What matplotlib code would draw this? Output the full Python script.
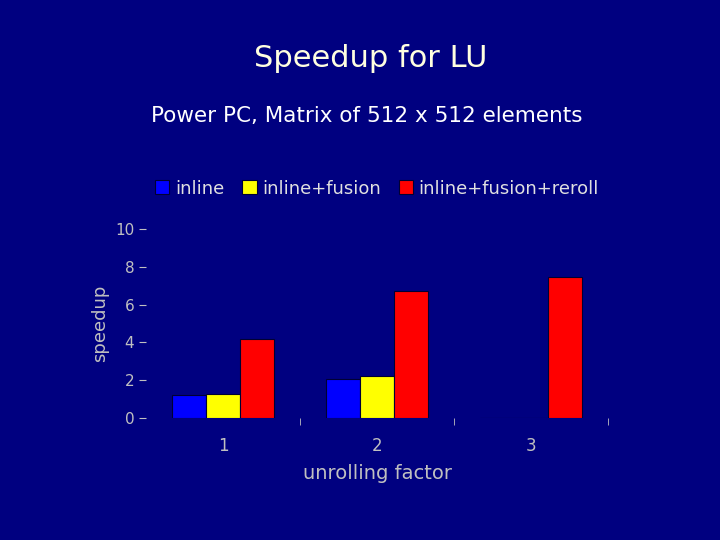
import matplotlib
matplotlib.use("Agg")
import matplotlib.pyplot as plt
import numpy as np

groups = ["1", "2", "3"]
series = ["inline", "inline+fusion", "inline+fusion+reroll"]
inline = [1.2, 2.05, 0]
fusion = [1.27, 2.2, 0]
reroll = [4.2, 6.7, 7.45]
colors = ["#0000ff", "#ffff00", "#ff0000"]

bg = "#000080"
fig = plt.figure(figsize=(7.2, 5.4), dpi=100, facecolor=bg)
ax = fig.add_axes([146/720, (540-418)/540, (608-146)/720, (418-229)/540])
ax.set_facecolor(bg)
x = np.arange(1, 4)
w = 0.22
for i, (vals, c, lab) in enumerate(zip([inline, fusion, reroll], colors, series)):
    ax.bar(x + (i-1)*w, vals, w, color=c, edgecolor="#000033", linewidth=0.8, label=lab)
ax.set_xlim(0.5, 3.5)
ax.set_ylim(0, 10)
ax.set_yticks([0, 2, 4, 6, 8, 10])
ax.set_xticks(x)
ax.set_xticklabels(groups)
ax.set_xticks([1.5, 2.5, 3.5], minor=True)
for s in ax.spines.values():
    s.set_visible(False)
ax.tick_params(axis="y", colors="#c0c0c0", labelsize=11, length=5, direction="out")
ax.tick_params(axis="x", which="major", colors="#c0c0c0", labelsize=12, length=0, pad=14)
ax.tick_params(axis="x", which="minor", colors="#c0c0c0", length=5)
ax.set_ylabel("speedup", color="#c0c0c0", fontsize=13)
ax.set_xlabel("unrolling factor", color="#c0c0c0", fontsize=14, labelpad=6)
leg = ax.legend(loc="lower center", bbox_to_anchor=(0.5, 1.08), ncol=3, frameon=False,
                fontsize=13, handlelength=0.8, handleheight=0.8, handletextpad=0.3,
                columnspacing=1.0)
for t in leg.get_texts():
    t.set_color("#e0e0e0")
fig.text(0.515, 0.892, "Speedup for LU", color="#ffffe0", fontsize=22, ha="center", va="center")
fig.text(0.51, 0.785, "Power PC, Matrix of 512 x 512 elements", color="white", fontsize=15.5, ha="center", va="center")
fig.savefig("out.png", facecolor=bg)
